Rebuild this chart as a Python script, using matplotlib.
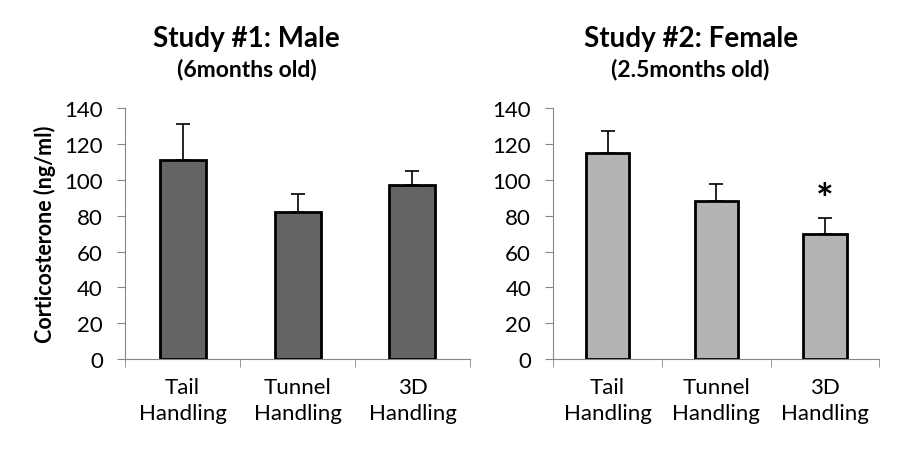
import matplotlib.pyplot as plt
import numpy as np

plt.rcParams['font.family'] = ['Lato', 'DejaVu Sans']

# Data
categories = ['Tail\nHandling', 'Tunnel\nHandling', '3D\nHandling']
male_means = [111, 82, 97]
male_sem = [20, 10, 8]
female_means = [115, 88, 70]
female_sem = [12.5, 10, 9]
yticks = [0, 20, 40, 60, 80, 100, 120, 140]

fig = plt.figure(figsize=(9.04, 4.52), dpi=100)
ax1 = fig.add_axes([0.1383, 0.2035, 0.3816, 0.5546])
ax2 = fig.add_axes([0.612, 0.2035, 0.3606, 0.5546])

grey = '#868686'


def draw_panel(ax, means, errs, color, title, subtitle, title_x):
    x = np.arange(len(categories))
    ax.bar(x, means, width=0.4, color=color, edgecolor='black', linewidth=2, zorder=3)
    ax.errorbar(x, means, yerr=[np.zeros(len(errs)), errs], fmt='none',
                ecolor='black', elinewidth=1.2, capsize=5, capthick=1.2, zorder=2)
    ax.set_xlim(-0.5, len(categories) - 0.5)
    ax.set_ylim(0, 140)
    ax.set_yticks(yticks)
    ax.set_xticks(x)
    ax.set_xticklabels(categories, fontsize=16, linespacing=1.35)
    ax.set_xticks(np.arange(-0.5, len(categories)), minor=True)
    ax.tick_params(axis='x', which='major', length=0, pad=13)
    ax.tick_params(axis='x', which='minor', length=6, color=grey, direction='out')
    ax.tick_params(axis='y', length=6, color=grey, labelsize=16, pad=10)
    for s in ['top', 'right']:
        ax.spines[s].set_visible(False)
    for s in ['left', 'bottom']:
        ax.spines[s].set_color(grey)
    # titles sit over the whole panel (incl. the y labels), not just the axes
    fig.text(title_x, 0.896, title, ha='center', va='baseline',
             fontsize=20, fontweight='bold')
    fig.text(title_x, 0.830, subtitle, ha='center', va='baseline',
             fontsize=16.5, fontweight='bold')


draw_panel(ax1, male_means, male_sem, '#646464', 'Study #1: Male', '(6months old)', 0.273)
draw_panel(ax2, female_means, female_sem, '#b4b4b4', 'Study #2: Female', '(2.5months old)', 0.764)

ax1.set_ylabel('Corticosterone (ng/ml)', fontsize=15.5, fontweight='bold', labelpad=6)

# significance marker over 3D handling (female)
ax2.text(2, female_means[2] + female_sem[2] + 9, '*', ha='center', va='center',
         fontsize=30, fontweight='bold')

fig.savefig('out.png', dpi=100)
